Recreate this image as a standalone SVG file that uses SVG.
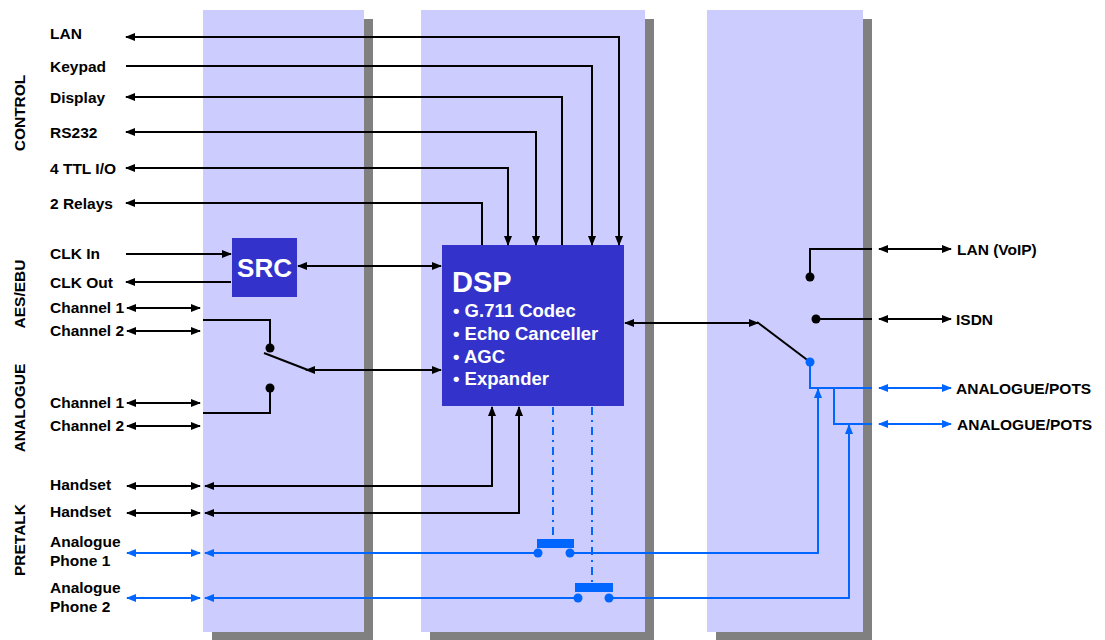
<svg xmlns="http://www.w3.org/2000/svg" width="1105" height="640" viewBox="0 0 1105 640">
<style>
.lbl{font-family:"Liberation Sans",Arial,sans-serif;font-weight:bold;font-size:15.5px;fill:#000}
.wt{font-family:"Liberation Sans",Arial,sans-serif;font-weight:bold;fill:#fff}
.panel{fill:#CCCCFF}
.shadow{fill:#808080}
.blk{fill:#3333CC}
.k{stroke:#000;stroke-width:2;fill:none}
.b{stroke:#0066FF;stroke-width:2;fill:none}
.dd{stroke:#0066FF;stroke-width:2;fill:none;stroke-dasharray:8 5 2 5}
.dk{fill:#000}
.db{fill:#0066FF}
</style>
<defs>
<marker id="ak" viewBox="0 0 10 8" refX="9" refY="4" markerWidth="10" markerHeight="8" markerUnits="userSpaceOnUse" orient="auto-start-reverse"><path d="M0,0 L10,4 L0,8 z" fill="#000"/></marker>
<marker id="ab" viewBox="0 0 10 8" refX="9" refY="4" markerWidth="10" markerHeight="8" markerUnits="userSpaceOnUse" orient="auto-start-reverse"><path d="M0,0 L10,4 L0,8 z" fill="#0066FF"/></marker>
</defs>
<rect width="1105" height="640" fill="#fff"/>

<g id="panel1"><rect class="shadow" x="212" y="19" width="161" height="622"/><rect class="panel" x="203" y="10" width="161" height="622"/></g>
<g id="panel2"><rect class="shadow" x="430" y="19" width="224" height="622"/><rect class="panel" x="421" y="10" width="224" height="622"/></g>
<g id="panel3"><rect class="shadow" x="716" y="19" width="156" height="622"/><rect class="panel" x="707" y="10" width="156" height="622"/></g>

<g id="groupLabels">
<text class="lbl" transform="translate(25,113) rotate(-90)" text-anchor="middle">CONTROL</text>
<text class="lbl" transform="translate(25,294) rotate(-90)" text-anchor="middle">AES/EBU</text>
<text class="lbl" transform="translate(25,408) rotate(-90)" text-anchor="middle">ANALOGUE</text>
<text class="lbl" transform="translate(25,540) rotate(-90)" text-anchor="middle">PRETALK</text>
</g>

<g id="leftLabels">
<text class="lbl" x="50" y="39">LAN</text>
<text class="lbl" x="50" y="72">Keypad</text>
<text class="lbl" x="50" y="103">Display</text>
<text class="lbl" x="50" y="138">RS232</text>
<text class="lbl" x="50" y="174">4 TTL I/O</text>
<text class="lbl" x="50" y="209">2 Relays</text>
<text class="lbl" x="50" y="259">CLK In</text>
<text class="lbl" x="50" y="288">CLK Out</text>
<text class="lbl" x="50" y="313">Channel 1</text>
<text class="lbl" x="50" y="336">Channel 2</text>
<text class="lbl" x="50" y="408">Channel 1</text>
<text class="lbl" x="50" y="431">Channel 2</text>
<text class="lbl" x="50" y="490">Handset</text>
<text class="lbl" x="50" y="517">Handset</text>
<text class="lbl" x="50" y="547">Analogue</text>
<text class="lbl" x="50" y="566">Phone 1</text>
<text class="lbl" x="50" y="593">Analogue</text>
<text class="lbl" x="50" y="612">Phone 2</text>
</g>

<g id="rightLabels">
<text class="lbl" x="957" y="255">LAN (VoIP)</text>
<text class="lbl" x="956" y="325">ISDN</text>
<text class="lbl" x="956" y="394">ANALOGUE/POTS</text>
<text class="lbl" x="957" y="430">ANALOGUE/POTS</text>
</g>

<g id="SRC"><rect class="blk" x="232" y="238" width="65" height="59"/><text class="wt" x="264.5" y="277" font-size="26" text-anchor="middle">SRC</text></g>

<g id="DSP"><rect class="blk" x="442" y="245" width="182" height="161"/>
<text class="wt" x="452" y="292" font-size="29">DSP</text>
<text class="wt" x="453" y="317" font-size="18.5">• G.711 Codec</text>
<text class="wt" x="453" y="340" font-size="18.5">• Echo Canceller</text>
<text class="wt" x="453" y="363" font-size="18.5">• AGC</text>
<text class="wt" x="453" y="385" font-size="18.5">• Expander</text>
</g>

<g id="connectors">
<path class="k" d="M126 37 H619 V245" marker-start="url(#ak)" marker-end="url(#ak)"/>
<path class="k" d="M126 66 H592 V245" marker-end="url(#ak)"/>
<path class="k" d="M126 97 H562 V245" marker-start="url(#ak)"/>
<path class="k" d="M126 132 H536 V245" marker-start="url(#ak)" marker-end="url(#ak)"/>
<path class="k" d="M126 168 H508 V245" marker-start="url(#ak)" marker-end="url(#ak)"/>
<path class="k" d="M126 203 H482 V245" marker-start="url(#ak)"/>
<path class="k" d="M126 254 H231" marker-end="url(#ak)"/>
<path class="k" d="M231 282 H126" marker-end="url(#ak)"/>
<path class="k" d="M298 266 H441" marker-start="url(#ak)" marker-end="url(#ak)"/>
<path class="k" d="M127 308 H200" marker-start="url(#ak)" marker-end="url(#ak)"/>
<path class="k" d="M127 331 H200" marker-start="url(#ak)" marker-end="url(#ak)"/>
<path class="k" d="M127 403 H200" marker-start="url(#ak)" marker-end="url(#ak)"/>
<path class="k" d="M127 426 H200" marker-start="url(#ak)" marker-end="url(#ak)"/>
<path class="k" d="M203 320 H270 V348"/>
<path class="k" d="M270 388 V413 H203"/>
<circle class="dk" cx="270" cy="348" r="4.5"/>
<circle class="dk" cx="270" cy="388" r="4.5"/>
<path class="k" d="M264 353 L308 370"/>
<path class="k" d="M306 370 H441" marker-start="url(#ak)" marker-end="url(#ak)"/>

<path class="k" d="M625 323 H758" marker-start="url(#ak)" marker-end="url(#ak)"/>
<path class="k" d="M757 322 L810 362"/>
<path class="k" d="M810 277 V249 H872"/>
<circle class="dk" cx="810" cy="277" r="4.5"/>
<path class="k" d="M879 249 H951" marker-start="url(#ak)" marker-end="url(#ak)"/>
<path class="k" d="M816 319 H872"/>
<circle class="dk" cx="816" cy="319" r="4.5"/>
<path class="k" d="M879 319 H951" marker-start="url(#ak)" marker-end="url(#ak)"/>
<path class="b" d="M810 362 V388 H872"/>
<path class="b" d="M834 388 V424 H872"/>
<circle class="db" cx="810" cy="362" r="4.5"/>
<path class="b" d="M879 388 H951" marker-start="url(#ab)" marker-end="url(#ab)"/>
<path class="b" d="M879 424 H951" marker-start="url(#ab)" marker-end="url(#ab)"/>

<path class="k" d="M127 486 H200" marker-start="url(#ak)" marker-end="url(#ak)"/>
<path class="k" d="M205 486 H492 V407" marker-start="url(#ak)" marker-end="url(#ak)"/>
<path class="k" d="M127 513 H200" marker-start="url(#ak)" marker-end="url(#ak)"/>
<path class="k" d="M205 513 H519 V407" marker-start="url(#ak)" marker-end="url(#ak)"/>

<path class="b" d="M127 553 H200" marker-start="url(#ab)" marker-end="url(#ab)"/>
<path class="b" d="M205 553 H538" marker-start="url(#ab)"/>
<path class="b" d="M570 553 H818 V389" marker-end="url(#ab)"/>
<circle class="db" cx="538" cy="553" r="4.5"/>
<circle class="db" cx="570" cy="553" r="4.5"/>
<rect class="db" x="537" y="539" width="37" height="9"/>
<path class="dd" d="M553 407 V539"/>

<path class="b" d="M127 598 H200" marker-start="url(#ab)" marker-end="url(#ab)"/>
<path class="b" d="M205 598 H578" marker-start="url(#ab)"/>
<path class="b" d="M609 598 H849 V425" marker-end="url(#ab)"/>
<circle class="db" cx="578" cy="598" r="4.5"/>
<circle class="db" cx="609" cy="598" r="4.5"/>
<rect class="db" x="575" y="583" width="38" height="9"/>
<path class="dd" d="M592 407 V583"/>
</g>
</svg>
